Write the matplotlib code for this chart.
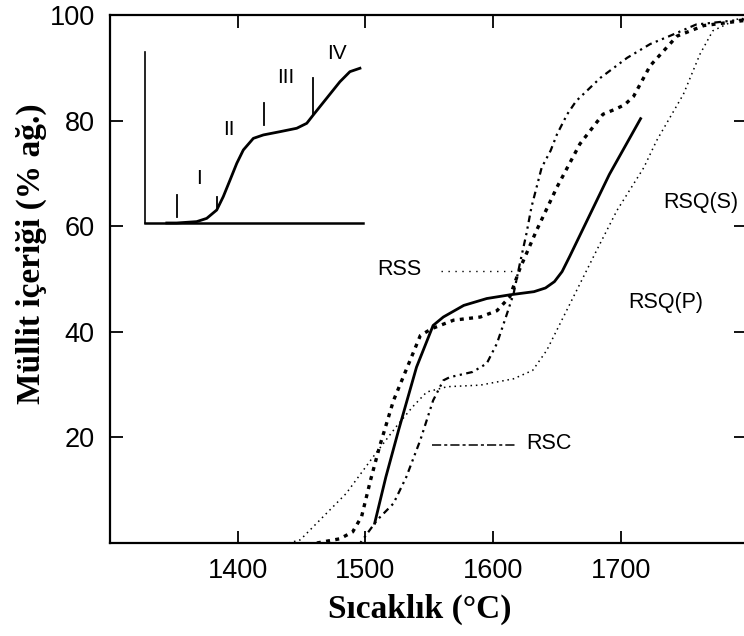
import matplotlib
matplotlib.use("Agg")
import matplotlib.pyplot as plt

# ---------------- data ----------------
# solid curve
solid_T = [1507, 1516, 1526, 1540, 1553, 1561, 1577, 1595, 1613, 1632, 1641, 1648, 1654, 1660, 1671, 1691, 1716]
solid_v = [3.5, 12.5, 21.4, 33.3, 41.2, 42.8, 45.0, 46.3, 47.0, 47.6, 48.3, 49.5, 51.4, 54.3, 59.8, 69.8, 80.6]

# heavy dashed curve
dash_T = [1462, 1480, 1490, 1497, 1504, 1511, 1522, 1535, 1543, 1552, 1569, 1590, 1603, 1613, 1621,
          1634, 1650, 1668, 1686, 1696, 1703, 1710, 1723, 1744, 1765, 1798]
dash_v = [0.0, 0.8, 2.1, 5.0, 11.9, 18.2, 27.0, 34.6, 39.3, 40.6, 42.2, 42.8, 44.0, 46.6, 52.0,
          59.2, 67.4, 75.6, 81.2, 82.2, 83.0, 84.6, 90.4, 96.0, 98.0, 99.0]

# dash-dot curve
dd_T = [1496, 1509, 1522, 1532, 1543, 1553, 1561, 1566, 1584, 1595, 1603, 1610, 1616, 1621, 1626,
        1630, 1638, 1645, 1650, 1658, 1665, 1684, 1705, 1723, 1738, 1759, 1798]
dd_v = [0.0, 4.3, 7.5, 12.5, 19.5, 27.0, 30.8, 31.4, 32.4, 34.0, 37.8, 42.8, 47.2, 53.0, 58.5,
        63.6, 71.1, 74.3, 77.4, 81.2, 83.7, 88.1, 91.9, 94.5, 96.0, 98.2, 99.2]

# fine dotted curve
dot_T = [1440, 1449, 1467, 1485, 1506, 1524, 1537, 1548, 1564, 1590, 1616, 1631, 1642, 1655, 1668,
         1681, 1697, 1718, 1728, 1749, 1762, 1772, 1791, 1798]
dot_v = [0.0, 0.6, 5.0, 9.4, 16.3, 22.0, 25.8, 28.6, 29.6, 29.9, 31.1, 32.7, 36.5, 42.8, 49.1,
         55.4, 63.0, 71.1, 76.2, 85.0, 92.6, 97.0, 99.2, 99.4]

x_ticks = [1400, 1500, 1600, 1700]
y_ticks = [20, 40, 60, 80, 100]

# curve labels
lbl_texts = ["RSS", "RSC", "RSQ(P)", "RSQ(S)"]
lbl_T = [1544, 1626, 1706, 1733]
lbl_v = [51.8, 18.9, 45.6, 64.5]
rss_leader_T = [1559, 1618]
rss_leader_v = [51.6, 51.6]
rsc_leader_T = [1552, 1617]
rsc_leader_v = [18.5, 18.5]

# inset (schematic) curve
ins_u = [0.10, 0.145, 0.237, 0.283, 0.329, 0.359, 0.390, 0.421, 0.451, 0.497, 0.543, 0.619, 0.696,
         0.742, 0.772, 0.833, 0.894, 0.940, 0.986]
ins_w = [0.0, 0.0, 0.008, 0.027, 0.076, 0.154, 0.251, 0.349, 0.427, 0.495, 0.515, 0.534, 0.554,
         0.583, 0.632, 0.729, 0.826, 0.885, 0.905]
mark_u = [0.148, 0.330, 0.546, 0.769]
mark_lo = [0.037, 0.095, 0.573, 0.632]
mark_hi = [0.164, 0.154, 0.700, 0.846]
stage_labels = ["I", "II", "III", "IV"]
stage_u = [0.248, 0.387, 0.645, 0.879]
stage_w = [0.26, 0.544, 0.848, 0.99]

# ---------------- figure ----------------
W, H = 744, 636
fig = plt.figure(figsize=(W / 100, H / 100), dpi=100)
fig.patch.set_facecolor("white")

L, R, T, B = 110, 746, 15, 543
ax = fig.add_axes([L / W, 1 - B / H, (R - L) / W, (B - T) / H])
ax.set_xlim(1300, 1798)
ax.set_ylim(0, 100)

ax.plot(dot_T, dot_v, color="black", lw=1.1, linestyle=(0, (1, 2.5)))
ax.plot(dd_T, dd_v, color="black", lw=1.6, linestyle=(0, (1, 2, 1, 2, 3, 2)))
ax.plot(dash_T, dash_v, color="black", lw=2.4, linestyle=(0, (1.2, 1.6)))
ax.plot(solid_T, solid_v, color="black", lw=2.0, solid_capstyle="butt")

ax.plot(rss_leader_T, rss_leader_v, color="black", lw=1.0, linestyle=(0, (1, 4)))
ax.plot(rsc_leader_T, rsc_leader_v, color="black", lw=1.1, linestyle=(0, (6, 2, 2, 2)))

sans = ["Liberation Sans", "DejaVu Sans"]
serif = ["Liberation Serif", "DejaVu Serif"]
for t, x, y in zip(lbl_texts, lbl_T, lbl_v):
    ha = "right" if t == "RSS" else "left"
    ax.text(x, y, t, ha=ha, va="center", fontsize=15.5, family=sans)

ax.set_xticks(x_ticks)
ax.set_yticks(y_ticks)
ax.tick_params(axis="both", which="major", direction="in", length=9, width=1.3,
               top=True, right=True, labelsize=19.5, pad=11)
ax.tick_params(axis="x", which="major", top=True, length=9)
for lab in ax.get_xticklabels() + ax.get_yticklabels():
    lab.set_family(sans)
for sp in ax.spines.values():
    sp.set_linewidth(1.6)

fig.text(420 / W, 1 - 609 / H, "Sıcaklık (°C)", ha="center", va="center",
         fontsize=24, fontweight="bold", family=serif)
fig.text(31 / W, 1 - 254 / H, "Müllit içeriği (% ağ.)", ha="center", va="center",
         rotation=90, fontsize=24, fontweight="bold", family=serif)

# ---------------- inset ----------------
iL, iR, iT, iB = 145, 363, 52, 223
axi = fig.add_axes([iL / W, 1 - iB / H, (iR - iL) / W, (iB - iT) / H])
axi.set_xlim(0, 1)
axi.set_ylim(0, 1)
axi.patch.set_alpha(0)
for s in ("top", "right"):
    axi.spines[s].set_visible(False)
axi.spines["left"].set_linewidth(1.2)
axi.spines["bottom"].set_linewidth(1.8)
axi.set_xticks([])
axi.set_yticks([])
axi.plot(ins_u, ins_w, color="black", lw=2.0, clip_on=False, solid_joinstyle="round")
for u, lo, hi in zip(mark_u, mark_lo, mark_hi):
    axi.plot([u, u], [lo, hi], color="black", lw=1.3)
for t, u, w in zip(stage_labels, stage_u, stage_w):
    axi.text(u, w, t, ha="center", va="center", fontsize=15, family=sans, clip_on=False)

fig.savefig("out.png", dpi=100, facecolor="white")
